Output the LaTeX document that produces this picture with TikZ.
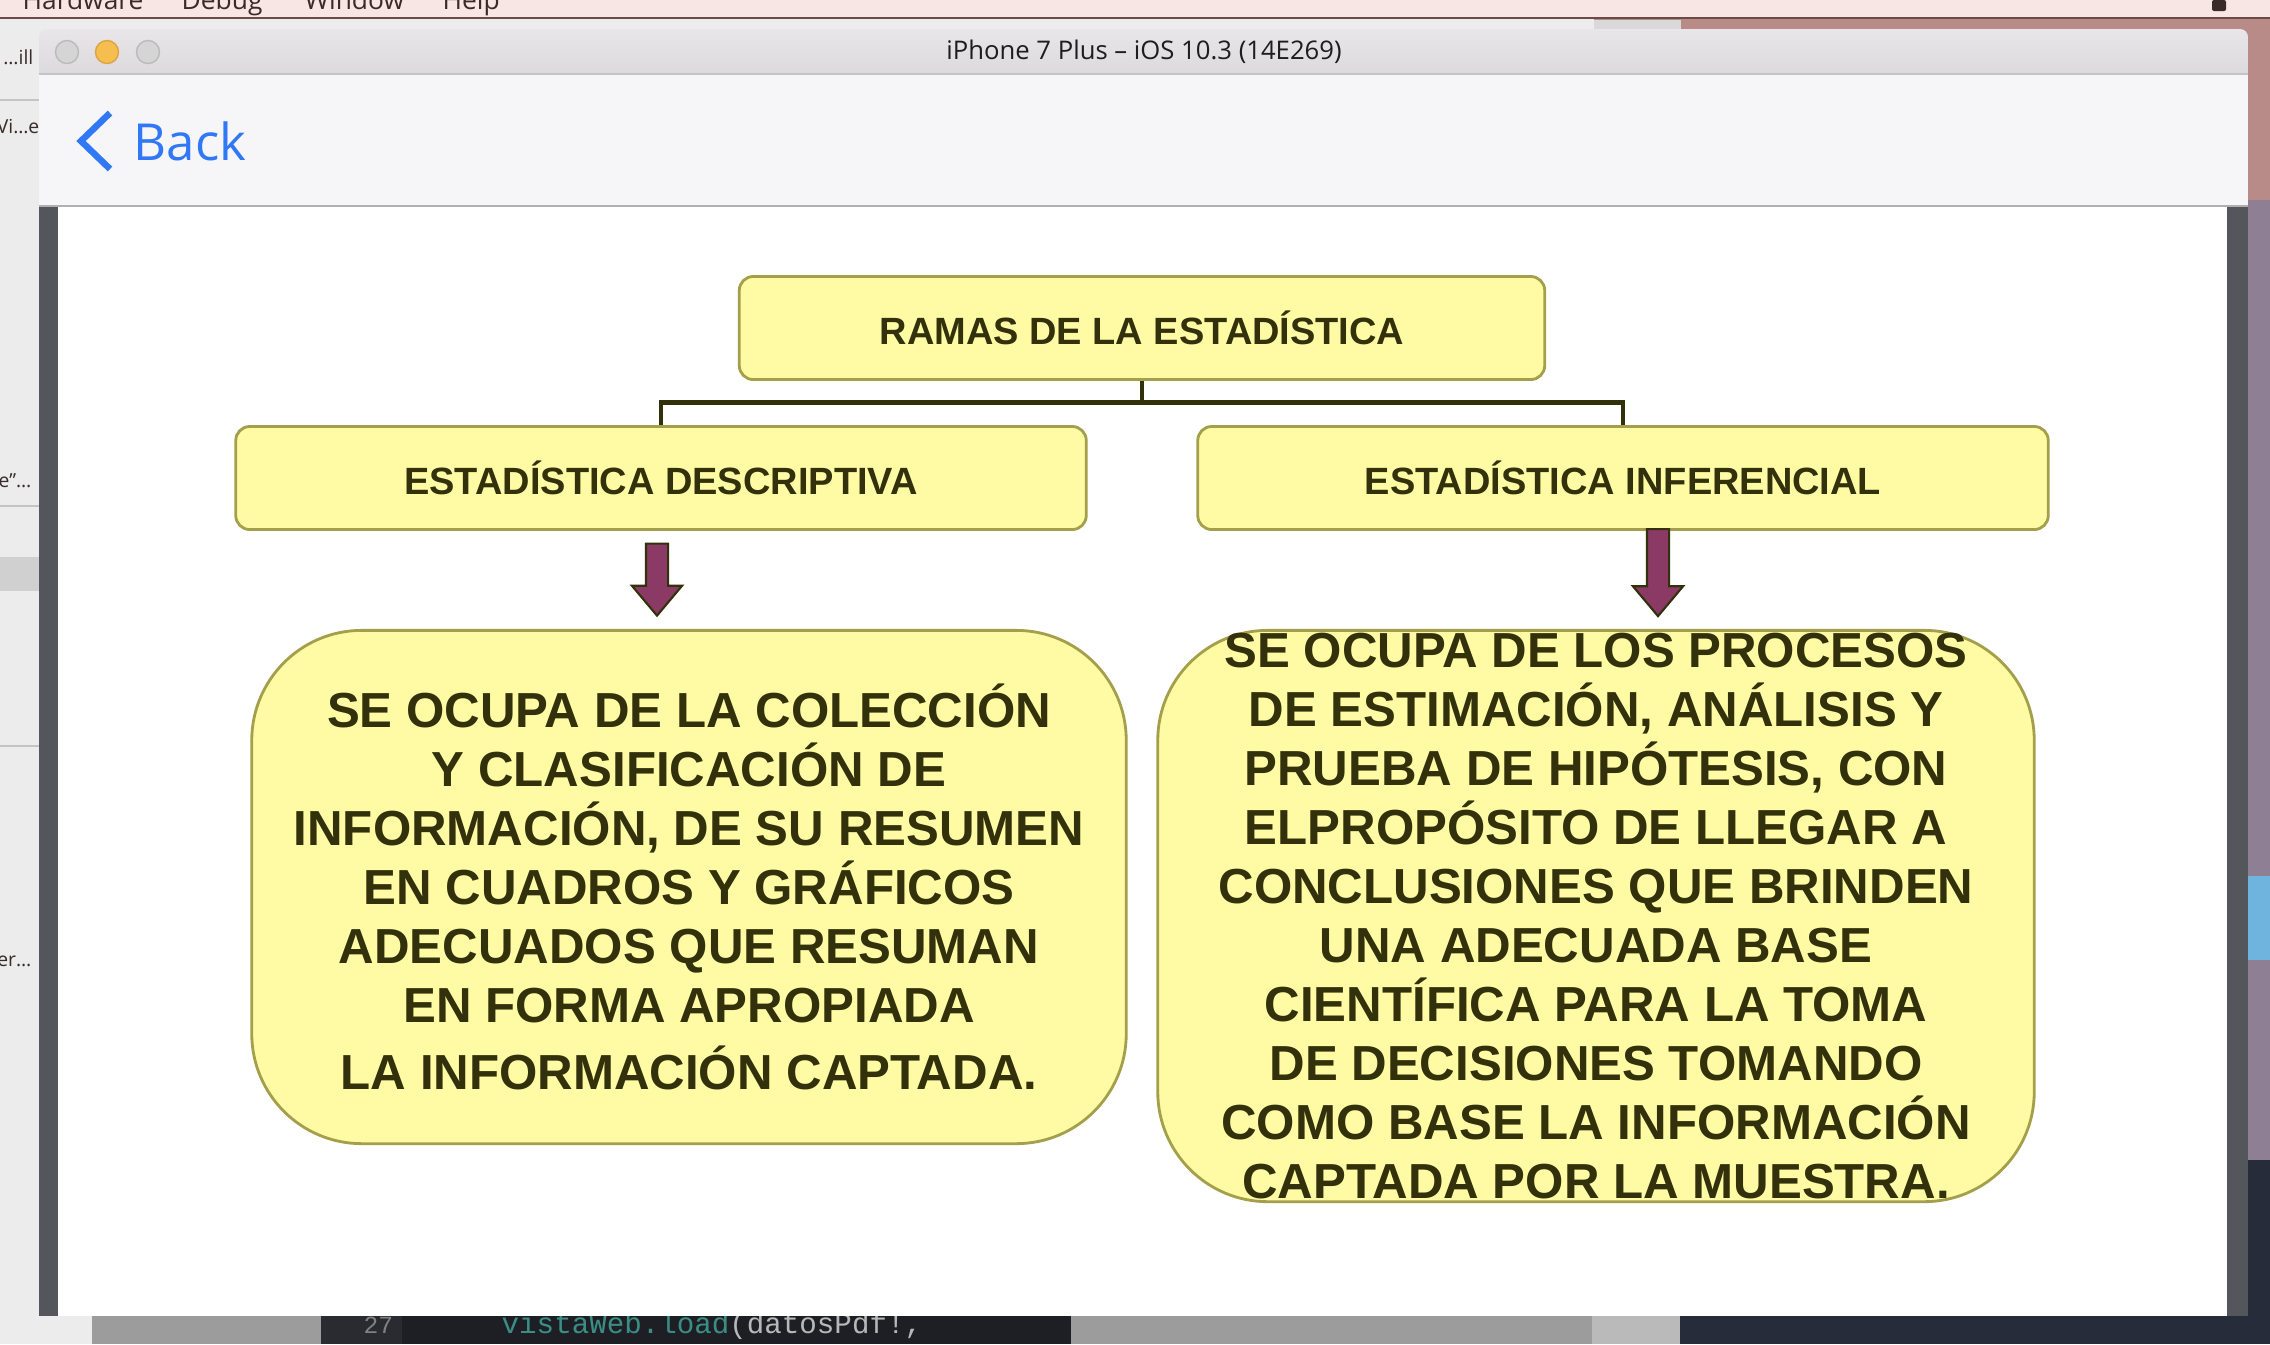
\documentclass[tikz,border=0pt]{standalone}
\usepackage{fontspec}
\setmainfont{Liberation Sans}
\newfontfamily\uifont{Open Sans}
\newfontfamily\codefont{Liberation Mono}
\usepackage{xcolor}
\usepackage{tikz}
\usetikzlibrary{shapes.arrows,positioning,calc}
\definecolor{ramaFill}{HTML}{FFFBA5}
\definecolor{ramaEdge}{HTML}{A39F4A}
\definecolor{ramaInk}{HTML}{33310C}
\definecolor{ramaPlum}{HTML}{8A3A64}
\definecolor{iosBlue}{HTML}{3078F6}
\definecolor{menuPink}{HTML}{F8E6E4}
\definecolor{menuLine}{HTML}{6B4A48}
\definecolor{menuInk}{HTML}{3A2A2A}
\definecolor{backWin}{HTML}{ECECEC}
\definecolor{backLine}{HTML}{C4C4C4}
\definecolor{winDark}{HTML}{53575B}
\definecolor{titleTop}{HTML}{E8E6E8}
\definecolor{titleBot}{HTML}{D2D0D3}
\definecolor{titleInk}{HTML}{1E1E1E}
\definecolor{navGray}{HTML}{F6F6F8}
\definecolor{dotGray}{HTML}{D5D5D5}
\definecolor{dotGrayEdge}{HTML}{BBBBBB}
\definecolor{dotAmber}{HTML}{F6BE4F}
\definecolor{dotAmberEdge}{HTML}{DDA444}
\definecolor{deskMauve}{HTML}{8E7F95}
\definecolor{deskRose}{HTML}{B88A88}
\definecolor{iceBlue}{HTML}{6FB4DE}
\definecolor{rockDark}{HTML}{262C3A}
\definecolor{lowGray}{HTML}{9C9C9C}
\definecolor{codeBg}{HTML}{1E1F24}
\definecolor{codeGutter}{HTML}{2A2B30}
\definecolor{codeTeal}{HTML}{3B8E86}
\definecolor{codeGray}{HTML}{B8B8B8}
\tikzset{
  headbox/.style={
    rectangle,
    rounded corners=0.14cm,
    draw=ramaEdge,
    fill=ramaFill,
    line width=0.8pt,
    minimum height=1.03cm,
    align=center,
    text=ramaInk,
    font=\fontsize{10.8}{13}\selectfont\bfseries
  },
  notebox/.style={
    rectangle,
    rounded corners=1.1cm,
    draw=ramaEdge,
    fill=ramaFill,
    line width=0.8pt,
    inner sep=0pt,
    align=center,
    text=ramaInk,
    font=\fontsize{14}{16.8}\selectfont\bfseries
  },
  branch/.style={
    line width=1.4pt,
    draw=ramaInk
  },
  blockarrow/.style={
    single arrow,
    shape border rotate=270,
    draw=ramaInk,
    fill=ramaPlum,
    line width=0.6pt,
    inner sep=0.1cm,
    minimum width=0.48cm,
    single arrow head extend=0.14cm,
    single arrow tip angle=80
  },
  light/.style={
    circle,
    minimum size=0.23cm,
    inner sep=0pt,
    line width=0.4pt
  },
  menuitem/.style={
    anchor=base west,
    inner sep=0pt,
    text=menuInk,
    font=\uifont\fontsize{7.5}{8}\selectfont
  },
  sidetext/.style={
    anchor=base east,
    inner sep=0pt,
    text=menuInk,
    font=\uifont\fontsize{5.5}{6}\selectfont
  }
}

\begin{document}
\begin{tikzpicture}[x=0.01cm,y=-0.01cm]
  \useasboundingbox (0,0) rectangle (2270,1344);
  \clip (0,0) rectangle (2270,1344);
  % desktop and the windows behind
  \fill[deskMauve] (0,0) rectangle (2270,1344);
  \fill[deskRose] (1594,18) rectangle (2270,200);
  \fill[backWin] (0,18) rectangle (1594,1344);
  \fill[backWin!92!black] (1594,20) rectangle (1681,29);
  \fill[backWin!88!black] (0,557) rectangle (39,591);
  \draw[backLine] (0,506) -- (39,506) (0,746) -- (39,746) (0,100) -- (39,100);
  \fill[iceBlue] (2248,876) rectangle (2270,960);
  \fill[rockDark] (2248,1160) rectangle (2270,1344);
  \fill[lowGray] (92,1316) rectangle (1592,1344);
  \fill[lowGray!70!white] (1592,1316) rectangle (1680,1344);
  \fill[codeGutter] (321,1316) rectangle (402,1344);
  \fill[codeBg] (402,1316) rectangle (1071,1344);
  \fill[rockDark] (1680,1316) rectangle (2270,1344);
  \node[anchor=base west,inner sep=0pt,font=\codefont\fontsize{8.3}{9}\selectfont] (codeLine) at (501,1333)
    {\textcolor{codeTeal}{vistaWeb.load}\textcolor{codeGray}{(datosPdf!,}};
  \node[anchor=base west,inner sep=0pt,text=codeGray!70!black,font=\codefont\fontsize{7}{8}\selectfont] (lineNo) at (363,1333) {27};
  \node[sidetext] (sideA) at (34,64) {…ill};
  \node[sidetext] (sideB) at (40,133) {Vi…e};
  \node[sidetext] (sideC) at (32,487) {e”…};
  \node[sidetext] (sideD) at (32,966) {er…};
  % menu bar
  \fill[menuPink] (0,0) rectangle (2270,18);
  \draw[menuLine,line width=0.6pt] (0,18) -- (2270,18);
  \node[menuitem] (mHardware) at (22,9) {Hardware};
  \node[menuitem] (mDebug) at (181,9) {Debug};
  \node[menuitem] (mWindow) at (304,9) {Window};
  \node[menuitem] (mHelp) at (442,9) {Help};
  \fill[menuInk,rounded corners=0.02cm] (2212,0) rectangle (2226,11);
  % simulator window
  \fill[winDark] (39,74) rectangle (2248,1316);
  \shade[top color=titleTop,bottom color=titleBot,rounded corners=0.08cm] (39,29) rectangle (2248,110);
  \fill[navGray] (39,74) rectangle (2248,206);
  \draw[backLine] (39,74) -- (2248,74);
  \draw[lowGray!80!white] (39,206) -- (2248,206);
  \fill[white] (58,207) rectangle (2227,1316);
  \node[light,fill=dotGray,draw=dotGrayEdge] (closeBtn) at (67,52) {};
  \node[light,fill=dotAmber,draw=dotAmberEdge] (minBtn) at (107,52) {};
  \node[light,fill=dotGray,draw=dotGrayEdge] (zoomBtn) at (148,52) {};
  \node[text=titleInk,font=\uifont\fontsize{7.3}{8}\selectfont] (simTitle) at (1144,52) {iPhone 7 Plus – iOS 10.3 (14E269)};
  \coordinate (chevTop) at (110,113);
  \coordinate (chevTip) at (81,141);
  \coordinate (chevBot) at (110,169);
  \draw[iosBlue,line width=0.065cm] (chevTop) -- (chevTip) -- (chevBot);
  \node[anchor=west,inner sep=0pt,text=iosBlue,font=\uifont\fontsize{14.5}{16}\selectfont] (backLbl) at (133,141) {Back};

  % diagram
  \node[headbox,minimum width=8.05cm] (ramas) at (1142,328) {RAMAS DE LA ESTADÍSTICA};
  \node[headbox,minimum width=8.5cm] (descrip) at (661,478) {ESTADÍSTICA DESCRIPTIVA};
  \node[headbox,minimum width=8.5cm] (infer) at (1623,478) {ESTADÍSTICA INFERENCIAL};
  \coordinate (fork) at ($(ramas.south)+(0,22)$);
  \draw[branch] (ramas.south) -- (fork);
  \draw[branch] (descrip.north) |- (fork) -| (infer.north);

  \node[notebox,minimum width=8.74cm,minimum height=5.13cm] (descNote) at (689,887)
    {SE OCUPA DE LA COLECCIÓN\\
     Y CLASIFICACIÓN DE\\
     INFORMACIÓN, DE SU RESUMEN\\
     EN CUADROS Y GRÁFICOS\\
     ADECUADOS QUE RESUMAN\\
     EN FORMA APROPIADA\\[2.3pt]
     LA INFORMACIÓN CAPTADA.};
  \node[notebox,minimum width=8.76cm,minimum height=5.71cm] (inferNote) at (1596,916)
    {SE OCUPA DE LOS PROCESOS\\
     DE ESTIMACIÓN, ANÁLISIS Y\\
     PRUEBA DE HIPÓTESIS, CON\\
     ELPROPÓSITO DE LLEGAR A\\
     CONCLUSIONES QUE BRINDEN\\
     UNA ADECUADA BASE\\
     CIENTÍFICA PARA LA TOMA\\
     DE DECISIONES TOMANDO\\
     COMO BASE LA INFORMACIÓN\\
     CAPTADA POR LA MUESTRA.};
  \node[blockarrow,minimum height=0.72cm] (descArrow) at (657,573) {};
  \node[blockarrow,minimum height=0.87cm] (inferArrow) at (1658,566) {};
\end{tikzpicture}
\end{document}
